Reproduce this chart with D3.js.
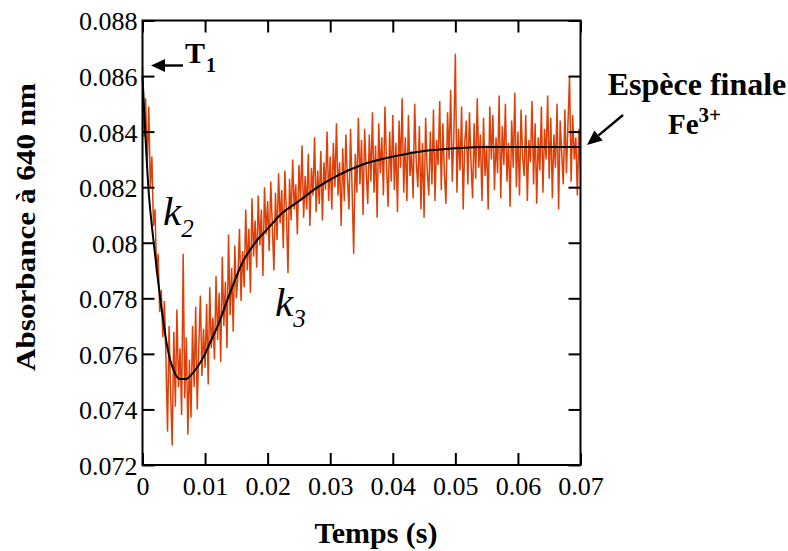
<!DOCTYPE html>
<html>
<head>
<meta charset="utf-8">
<script src="https://cdn.jsdelivr.net/npm/d3@7/dist/d3.min.js"></script>
<style>
  html, body { margin: 0; padding: 0; background: #fff; }
  svg { display: block; }
  svg text { font-family: "Liberation Serif", "DejaVu Serif", serif !important; fill: #000; }
</style>
</head>
<body>
<svg id="chart" width="788" height="551"></svg>
<script>
// ---- Data ----
const timeStep = 0.00025; // s between raw samples, first sample at t = 0
const absorbance = [
  0.0863, 0.0838, 0.0852, 0.0827, 0.0849, 0.0820, 0.0831, 0.0806,
  0.0812, 0.0789, 0.0796, 0.0775, 0.0783, 0.0766, 0.0779, 0.0758,
  0.0732, 0.0770, 0.0745, 0.0727, 0.0768, 0.0741, 0.0776, 0.0748,
  0.0762, 0.0738, 0.0796, 0.0744, 0.0766, 0.0731, 0.0758, 0.0737,
  0.0770, 0.0748, 0.0777, 0.0740, 0.0763, 0.0781, 0.0752, 0.0769,
  0.0755, 0.0778, 0.0749, 0.0784, 0.0762, 0.0773, 0.0758, 0.0788,
  0.0765, 0.0782, 0.0757, 0.0795, 0.0770, 0.0786, 0.0762, 0.0803,
  0.0774, 0.0791, 0.0768, 0.0799, 0.0780, 0.0788, 0.0805, 0.0779,
  0.0797, 0.0784, 0.0812, 0.0790, 0.0805, 0.0782, 0.0816, 0.0795,
  0.0808, 0.0791, 0.0817, 0.0799, 0.0812, 0.0788, 0.0820, 0.0803,
  0.0815, 0.0797, 0.0822, 0.0806, 0.0790, 0.0818, 0.0801, 0.0825,
  0.0807, 0.0819, 0.0798, 0.0826, 0.0811, 0.0789, 0.0823, 0.0808,
  0.0830, 0.0812, 0.0821, 0.0803, 0.0828, 0.0815, 0.0835, 0.0809,
  0.0824, 0.0812, 0.0832, 0.0806, 0.0827, 0.0817, 0.0838, 0.0811,
  0.0826, 0.0814, 0.0833, 0.0808, 0.0829, 0.0819, 0.0840, 0.0815,
  0.0831, 0.0812, 0.0836, 0.0820, 0.0843, 0.0817, 0.0829, 0.0806,
  0.0834, 0.0815, 0.0839, 0.0823, 0.0812, 0.0841, 0.0819, 0.0796,
  0.0832, 0.0818, 0.0845, 0.0821, 0.0837, 0.0810, 0.0841, 0.0826,
  0.0814, 0.0839, 0.0822, 0.0847, 0.0818, 0.0835, 0.0809, 0.0843,
  0.0825, 0.0838, 0.0817, 0.0849, 0.0828, 0.0813, 0.0840, 0.0822,
  0.0846, 0.0819, 0.0836, 0.0811, 0.0844, 0.0827, 0.0852, 0.0818,
  0.0838, 0.0815, 0.0846, 0.0824, 0.0833, 0.0816, 0.0850, 0.0829,
  0.0820, 0.0842, 0.0812, 0.0836, 0.0809, 0.0845, 0.0826, 0.0817,
  0.0840, 0.0821, 0.0848, 0.0815, 0.0837, 0.0828, 0.0851, 0.0819,
  0.0843, 0.0825, 0.0814, 0.0847, 0.0830, 0.0855, 0.0822, 0.0838,
  0.0868, 0.0818, 0.0841, 0.0826, 0.0849, 0.0812, 0.0836, 0.0844,
  0.0821, 0.0847, 0.0829, 0.0816, 0.0843, 0.0823, 0.0852, 0.0827,
  0.0839, 0.0815, 0.0845, 0.0824, 0.0835, 0.0812, 0.0849, 0.0830,
  0.0846, 0.0819, 0.0838, 0.0825, 0.0853, 0.0816, 0.0842, 0.0828,
  0.0850, 0.0822, 0.0836, 0.0813, 0.0844, 0.0827, 0.0854, 0.0820,
  0.0840, 0.0817, 0.0848, 0.0831, 0.0824, 0.0846, 0.0815, 0.0837,
  0.0829, 0.0851, 0.0821, 0.0843, 0.0814, 0.0838, 0.0826, 0.0849,
  0.0818, 0.0841, 0.0830, 0.0853, 0.0823, 0.0845, 0.0816, 0.0839,
  0.0827, 0.0850, 0.0812, 0.0844, 0.0832, 0.0821, 0.0848, 0.0825,
  0.0843, 0.0860, 0.0822, 0.0846, 0.0830, 0.0838, 0.0817, 0.0841, 0.0826
];
const fitTimes = [0, 0.0005, 0.001, 0.0015, 0.002, 0.0025, 0.003, 0.0035, 0.004, 0.005,
  0.006, 0.007, 0.008, 0.009, 0.010, 0.011, 0.012, 0.014, 0.016, 0.018, 0.020, 0.022,
  0.025, 0.028, 0.031, 0.035, 0.040, 0.045, 0.050, 0.055, 0.060, 0.070];
const fitValues = [0.0860, 0.0837, 0.0818, 0.0806, 0.0796, 0.0786, 0.0777, 0.0769, 0.0762, 0.0754,
  0.0751, 0.0751, 0.0753, 0.0756, 0.0760, 0.0765, 0.0770, 0.0782, 0.0793, 0.0800, 0.0805, 0.0810,
  0.0815, 0.0820, 0.0824, 0.0828, 0.0831, 0.0833, 0.0834, 0.08345, 0.08345, 0.08345];
const xTicks = [0, 0.01, 0.02, 0.03, 0.04, 0.05, 0.06, 0.07];
const xTickLabels = ["0", "0.01", "0.02", "0.03", "0.04", "0.05", "0.06", "0.07"];
const yTicks = [0.072, 0.074, 0.076, 0.078, 0.080, 0.082, 0.084, 0.086, 0.088];
const yTickLabels = ["0.072", "0.074", "0.076", "0.078", "0.08", "0.082", "0.084", "0.086", "0.088"];

// ---- Layout ----
const SERIF = "'Liberation Serif', 'DejaVu Serif', serif";
const svg = d3.select("#chart");
const L = 142.5, R = 580.5, T = 20.5, B = 465;
const x = d3.scaleLinear().domain([0, 0.07]).range([L, R]);
const y = d3.scaleLinear().domain([0.072, 0.088]).range([B, T]);
const tickLen = 12;

// raw data
const raw = absorbance.map((v, i) => [i * timeStep, v]);
svg.append("path")
  .datum(raw)
  .attr("fill", "none")
  .attr("stroke", "#dc4008")
  .attr("stroke-width", 1.5)
  .attr("d", d3.line().x(d => x(d[0])).y(d => y(d[1])));

// fit
const fit = fitTimes.map((t, i) => [t, fitValues[i]]);
svg.append("path")
  .datum(fit)
  .attr("fill", "none")
  .attr("stroke", "#000")
  .attr("stroke-width", 2)
  .attr("d", d3.line().x(d => x(d[0])).y(d => y(d[1])).curve(d3.curveMonotoneX));

// axes (inner ticks on all four sides)
const xAxisB = d3.axisBottom(x).tickValues(xTicks).tickSizeInner(-tickLen).tickSizeOuter(0)
  .tickPadding(12).tickFormat((d, i) => xTickLabels[i]);
const gB = svg.append("g").attr("transform", `translate(0,${B})`).call(xAxisB);
const xAxisT = d3.axisTop(x).tickValues(xTicks).tickSizeInner(-tickLen).tickSizeOuter(0).tickFormat("");
const gT = svg.append("g").attr("transform", `translate(0,${T})`).call(xAxisT);
const yAxisL = d3.axisLeft(y).tickValues(yTicks).tickSizeInner(-tickLen).tickSizeOuter(0)
  .tickPadding(5).tickFormat((d, i) => yTickLabels[i]);
const gL = svg.append("g").attr("transform", `translate(${L},0)`).call(yAxisL);
const yAxisR = d3.axisRight(y).tickValues(yTicks).tickSizeInner(-tickLen).tickSizeOuter(0).tickFormat("");
const gR = svg.append("g").attr("transform", `translate(${R},0)`).call(yAxisR);

[gB, gT, gL, gR].forEach(g => {
  g.attr("font-family", SERIF).attr("font-size", 25);
  g.select(".domain").remove();
  g.selectAll(".tick line").attr("stroke", "#000").attr("stroke-width", 2);
  g.selectAll(".tick text")
    .style("font-family", SERIF)
    .style("font-size", "26px")
    .attr("fill", "#000");
});
gL.selectAll(".tick text").attr("dy", "0.36em");

// frame
svg.append("rect")
  .attr("x", L).attr("y", T).attr("width", R - L).attr("height", B - T)
  .attr("fill", "none").attr("stroke", "#000").attr("stroke-width", 2);

// axis titles
svg.append("text")
  .attr("x", 376).attr("y", 543)
  .attr("text-anchor", "middle")
  .style("font-weight", "bold").style("font-size", "30px")
  .text("Temps (s)");
svg.append("text")
  .attr("transform", "translate(35,227) rotate(-90)")
  .attr("text-anchor", "middle")
  .style("font-weight", "bold").style("font-size", "28px")
  .attr("textLength", 288).attr("lengthAdjust", "spacingAndGlyphs")
  .text("Absorbance à 640 nm");

// arrows (line + filled head)
function arrow(x1, y1, x2, y2, headLen, headHalf) {
  const a = Math.atan2(y2 - y1, x2 - x1);
  const bx = x2 - headLen * Math.cos(a), by = y2 - headLen * Math.sin(a);
  const px = -Math.sin(a) * headHalf, py = Math.cos(a) * headHalf;
  svg.append("line")
    .attr("x1", x1).attr("y1", y1).attr("x2", bx).attr("y2", by)
    .attr("stroke", "#000").attr("stroke-width", 2.4);
  svg.append("path")
    .attr("d", `M${x2},${y2} L${bx + px},${by + py} L${bx - px},${by - py} Z`)
    .attr("fill", "#000");
}
arrow(183, 65.5, 151, 65.5, 14, 6.5);
arrow(623, 115, 587, 145, 15, 6.5);

// annotations
const t1 = svg.append("text").attr("x", 185).attr("y", 63)
  .style("font-weight", "bold").style("font-size", "30px");
t1.append("tspan").text("T");
t1.append("tspan").style("font-size", "20px").attr("dy", 9).attr("dx", 1).text("1");

const k2 = svg.append("text").attr("x", 163).attr("y", 225)
  .style("font-style", "italic").style("font-size", "41px");
k2.append("tspan").text("k");
k2.append("tspan").style("font-size", "25px").attr("dy", 12).attr("dx", 0).text("2");

const k3 = svg.append("text").attr("x", 275).attr("y", 316)
  .style("font-style", "italic").style("font-size", "41px");
k3.append("tspan").text("k");
k3.append("tspan").style("font-size", "25px").attr("dy", 11).attr("dx", 0).text("3");

svg.append("text").attr("x", 697).attr("y", 95)
  .attr("text-anchor", "middle")
  .style("font-weight", "bold").style("font-size", "32px")
  .text("Espèce finale");
const fe = svg.append("text").attr("x", 668).attr("y", 134)
  .style("font-weight", "bold").style("font-size", "29px");
fe.append("tspan").text("Fe");
fe.append("tspan").style("font-size", "21px").attr("dy", -12).text("3+");
</script>
</body>
</html>
